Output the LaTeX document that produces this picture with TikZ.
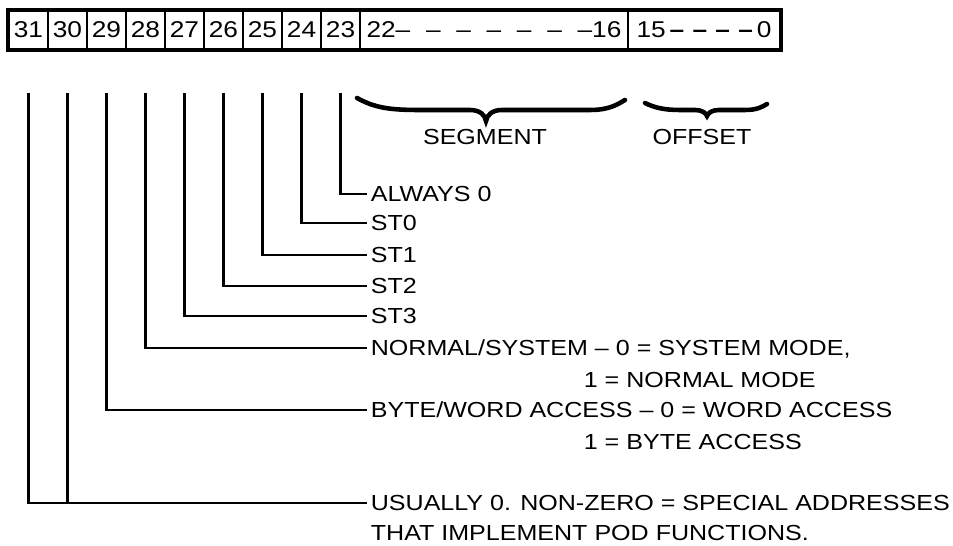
\documentclass[tikz,border=0pt]{standalone}
\usepackage{fontspec}
\setmainfont{Liberation Sans}[FakeStretch=1.15]
\usepackage{tikz}
\usetikzlibrary{positioning,calc}

\begin{document}
\begin{tikzpicture}[
    x=0.02cm,y=-0.02cm,
    font=\fontsize{12.4}{14}\selectfont,
    cell/.style={draw,line width=1.4pt,minimum width=0.78cm,minimum height=0.76cm,inner sep=0pt,font=\fontsize{13}{14}\selectfont},
    field/.style={draw,line width=1.4pt,minimum height=0.76cm,inner sep=0pt,font=\fontsize{13}{14}\selectfont},
    lbl/.style={anchor=west,inner sep=2pt,text height=8.9pt,text depth=0pt},
    wire/.style={line width=1.7pt},
    brc/.style={line width=2.6pt,line cap=round}
  ]
    \useasboundingbox (0,0) rectangle (953,546);
    % register word, bits 31 .. 0
    \foreach \b [count=\i from 0] in {31,30,...,23}
      \node[cell] (b\b) at ({28.5+39*\i},30) {\b};
    \node[field,minimum width=5.36cm] (seg) at (494,30)
      {\hbox to 5.1cm{22--\hfill--\hfill--\hfill--\hfill--\hfill--\hfill--16}};
    \node[field,minimum width=3.04cm] (off) at (704,30)
      {\hbox to 2.7cm{15\,\textbf{--}\hfill\textbf{--}\hfill\textbf{--}\hfill\textbf{--}\,0}};
    \draw[line width=1.9pt] (b31.north west) rectangle (off.south east);

    % fields
    \draw[brc] (357,98) .. controls (375,108) and (390,110) .. (420,110) -- (470,110)
      .. controls (480,110) and (485,115) .. (486,121) .. controls (487,115) and (492,110) .. (502,110)
      -- (590,110) .. controls (610,110) and (618,104) .. (625,100);
    \draw[brc] (645,103) .. controls (655,108) and (665,110) .. (680,110) -- (695,110)
      .. controls (702,110) and (706,113) .. (707,116) .. controls (708,113) and (712,110) .. (719,110)
      -- (745,110) .. controls (757,110) and (762,107) .. (767,104);
    \node (segl) at (485,137) {SEGMENT};
    \node (offl) at (702,137) {OFFSET};

    % bit meanings
    \node[lbl] (al0) at (367,194) {ALWAYS 0};
    \node[lbl] (st0) at (367,223) {ST0};
    \node[lbl] (st1) at (367,255) {ST1};
    \node[lbl] (st2) at (367,286) {ST2};
    \node[lbl] (st3) at (367,316) {ST3};
    \node[lbl] (nsys) at (367,348) {NORMAL/SYSTEM -- 0 = SYSTEM MODE,};
    \node[lbl] (nsys2) at (580,380) {1 = NORMAL MODE};
    \node[lbl] (bw) at (367,410) {BYTE/WORD ACCESS -- 0 = WORD ACCESS};
    \node[lbl] (bw2) at (580,442) {1 = BYTE ACCESS};
    \node[lbl] (pod) at (367,503) {USUALLY 0. NON-ZERO = SPECIAL ADDRESSES};
    \node[lbl] (pod2) at (367,533) {THAT IMPLEMENT POD FUNCTIONS.};

    \coordinate (top) at (0,93);
    \foreach \b/\l in {23/al0,24/st0,25/st1,26/st2,27/st3,28/nsys,29/bw,31/pod}
      \draw[wire] (b\b |- top) |- (\l.west);
    \draw[wire] (b30 |- top) -- (b30 |- pod.west);
  \end{tikzpicture}
\end{document}
